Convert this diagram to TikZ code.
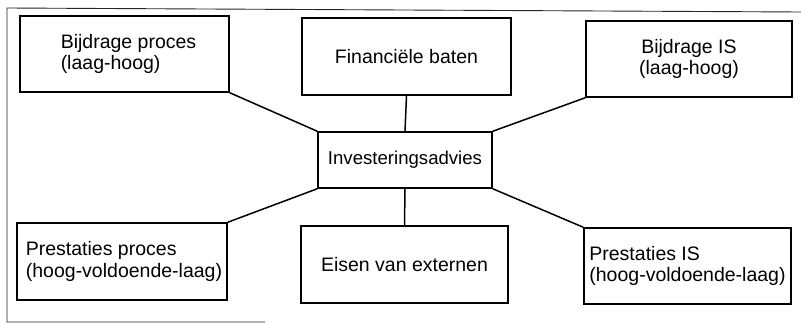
\documentclass[tikz,border=0pt]{standalone}
\usepackage{fontspec}
\setmainfont{Liberation Sans}
\begin{document}
\begin{tikzpicture}[x=1pt,y=-1pt,
  box/.style={draw, line width=1.5pt, inner sep=0pt, anchor=center,
              font=\fontsize{19.5}{21.5}\selectfont},
  link/.style={line width=1.5pt},
  frame/.style={line width=0.9pt, black!85}]
\useasboundingbox (0,0) rectangle (801,324);

% outer frame (open on the right)
\coordinate (ftr) at (801,12);
\coordinate (ftl) at (7,8);
\coordinate (fbl) at (7,322);
\coordinate (fbr) at (265,322);
\draw[frame] (ftr) -- (ftl) -- (fbl) -- (fbr);

% centre node
\node[box, minimum width=174pt, minimum height=56pt,
      font=\fontsize{18.6}{21}\selectfont] (inv) at (405,160) {Investeringsadvies};

% upper row
\node[box, minimum width=209pt, minimum height=76pt, align=left]
  (bp) at (124.5,54) {\hspace*{8pt}Bijdrage proces\\\hspace*{8pt}(laag-hoog)};
\node[box, minimum width=209pt, minimum height=77pt]
  (fb) at (406.5,56.5) {Financiële baten};
\node[box, minimum width=206pt, minimum height=76pt, align=center]
  (bis) at (689,59) {Bijdrage IS\\(laag-hoog)};

% lower row
\node[box, minimum width=210pt, minimum height=77pt, align=left]
  (pp) at (122,261.5) {\hspace*{4pt}Prestaties proces\\\hspace*{4pt}(hoog-voldoende-laag)};
\node[box, minimum width=207pt, minimum height=77pt]
  (ev) at (404.5,264.5) {Eisen van externen};
\node[box, minimum width=207pt, minimum height=76pt, align=left]
  (pis) at (687.5,266) {Prestaties IS\\(hoog-voldoende-laag)};

% connectors
\draw[link] (bp.south east) -- (inv.north west);
\draw[link] (fb.south) -- (inv.north);
\draw[link] (bis.south west) -- (inv.north east);
\draw[link] (pp.north east) -- (inv.south west);
\draw[link] (ev.north) -- (inv.south);
\draw[link] (pis.north west) -- (inv.south east);
\end{tikzpicture}
\end{document}
